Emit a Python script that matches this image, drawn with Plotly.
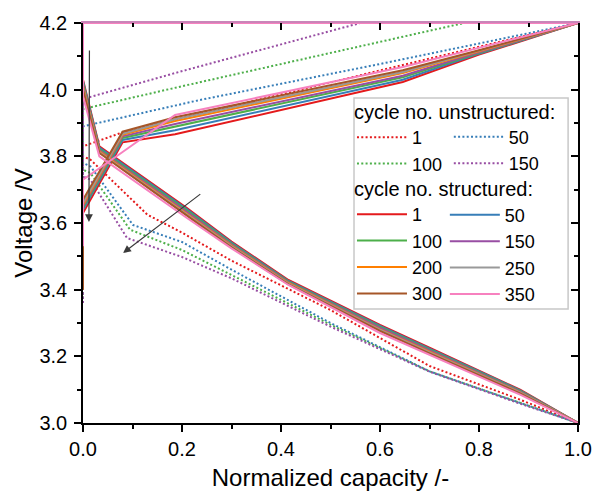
import plotly.graph_objects as go

# ---------------- data ----------------
U_LABELS = ["1", "50", "100", "150"]
U_COLORS = ["#e41a1c", "#377eb8", "#4daf4a", "#984ea3"]
U_LEGENDS = ["legend", "legend2", "legend", "legend2"]

# unstructured charge (x, V)
u1_charge_x = [0, 0, 0.08, 0.2, 0.5, 0.8, 1.0]
u1_charge_v = [3.36, 3.83, 3.872, 3.915, 4.023, 4.13, 4.2]
u50_charge_x = [0, 0, 0.236, 0.6, 1.0]
u50_charge_v = [3.36, 3.89, 3.969, 4.077, 4.2]
u100_charge_x = [0, 0, 0.196, 0.6, 0.77, 1.0]
u100_charge_v = [3.36, 3.942, 4.009, 4.144, 4.2, 4.2]
u150_charge_x = [0, 0, 0.196, 0.533, 0.56, 1.0]
u150_charge_v = [3.36, 3.972, 4.054, 4.189, 4.2, 4.2]

# unstructured discharge (x, V)
u1_dis_x = [0, 0, 0.015, 0.13, 0.2, 0.3, 0.5, 0.7, 0.883, 1.0]
u1_dis_v = [4.2, 3.80, 3.79, 3.625, 3.571, 3.487, 3.339, 3.171, 3.07, 3.0]
u50_dis_x = [0, 0, 0.015, 0.101, 0.2, 0.3, 0.5, 0.7, 0.883, 1.0]
u50_dis_v = [4.2, 3.78, 3.77, 3.594, 3.543, 3.46, 3.30, 3.155, 3.06, 3.0]
u100_dis_x = [0, 0, 0.015, 0.095, 0.2, 0.3, 0.5, 0.7, 0.883, 1.0]
u100_dis_v = [4.2, 3.76, 3.75, 3.58, 3.519, 3.444, 3.295, 3.155, 3.06, 3.0]
u150_dis_x = [0, 0, 0.015, 0.089, 0.2, 0.3, 0.5, 0.7, 0.883, 1.0]
u150_dis_v = [4.2, 3.74, 3.73, 3.555, 3.498, 3.434, 3.289, 3.154, 3.058, 3.0]

S_LABELS = ["1", "50", "100", "150", "200", "250", "300", "350"]
S_COLORS = ["#e41a1c", "#377eb8", "#4daf4a", "#984ea3",
            "#ff7f00", "#999999", "#a65628", "#f781bf"]
S_LEGENDS = ["legend3", "legend4", "legend3", "legend4",
             "legend3", "legend4", "legend3", "legend4"]

# structured charge: shared capacity grid
s_charge_x = [0, 0, 0.08, 0.186, 0.646, 0.8, 1.0]
s1_charge_v = [3.40, 3.630, 3.842, 3.866, 4.023, 4.105, 4.2]
s50_charge_v = [3.40, 3.640, 3.849, 3.878, 4.030, 4.108, 4.2]
s100_charge_v = [3.40, 3.645, 3.855, 3.889, 4.037, 4.110, 4.2]
s150_charge_v = [3.40, 3.650, 3.860, 3.897, 4.042, 4.112, 4.2]
s200_charge_v = [3.40, 3.655, 3.865, 3.906, 4.050, 4.115, 4.2]
s250_charge_v = [3.40, 3.660, 3.868, 3.911, 4.053, 4.116, 4.2]
s300_charge_v = [3.40, 3.670, 3.874, 3.917, 4.058, 4.118, 4.2]
s350_charge_v = [3.53, 3.730, 3.813, 3.924, 4.068, 4.125, 4.2]

# structured discharge: shared capacity grid
s_dis_x = [0, 0, 0.033, 0.21, 0.3, 0.415, 0.6, 0.7, 0.883, 1.0]
s1_dis_v = [4.2, 4.030, 3.830, 3.645, 3.544, 3.429, 3.294, 3.226, 3.100, 3.0]
s50_dis_v = [4.2, 4.025, 3.826, 3.641, 3.541, 3.426, 3.291, 3.223, 3.098, 3.0]
s100_dis_v = [4.2, 4.020, 3.822, 3.637, 3.538, 3.424, 3.288, 3.220, 3.096, 3.0]
s150_dis_v = [4.2, 4.015, 3.818, 3.633, 3.535, 3.422, 3.285, 3.218, 3.094, 3.0]
s200_dis_v = [4.2, 4.010, 3.815, 3.629, 3.532, 3.420, 3.281, 3.214, 3.092, 3.0]
s250_dis_v = [4.2, 4.005, 3.812, 3.626, 3.530, 3.418, 3.279, 3.212, 3.091, 3.0]
s300_dis_v = [4.2, 4.000, 3.810, 3.622, 3.527, 3.416, 3.276, 3.209, 3.089, 3.0]
s350_dis_v = [4.2, 3.980, 3.800, 3.615, 3.524, 3.414, 3.270, 3.205, 3.085, 3.0]

# arrows (tail -> head) in data coordinates
ARROW_VERT = ((0.013, 4.122), (0.012, 3.603))
ARROW_DIAG = ((0.240, 3.690), (0.081, 3.510))

X_TICK_STEP = 0.2
Y_TICK_STEP = 0.2

# ---------------- figure ----------------
FONT = "Liberation Sans, Arial, sans-serif"
fig = go.Figure()

u_series = [
    (u1_charge_x, u1_charge_v, u1_dis_x, u1_dis_v),
    (u50_charge_x, u50_charge_v, u50_dis_x, u50_dis_v),
    (u100_charge_x, u100_charge_v, u100_dis_x, u100_dis_v),
    (u150_charge_x, u150_charge_v, u150_dis_x, u150_dis_v),
]
for (cx, cv, dx, dv), lab, col, lg in zip(u_series, U_LABELS, U_COLORS, U_LEGENDS):
    fig.add_trace(go.Scatter(
        x=list(cx) + list(dx), y=list(cv) + list(dv), mode="lines",
        name=lab, legend=lg,
        line=dict(color=col, width=2, dash="2px,2.3px")))

s_charge = [s1_charge_v, s50_charge_v, s100_charge_v, s150_charge_v,
            s200_charge_v, s250_charge_v, s300_charge_v, s350_charge_v]
s_dis = [s1_dis_v, s50_dis_v, s100_dis_v, s150_dis_v,
         s200_dis_v, s250_dis_v, s300_dis_v, s350_dis_v]
for cv, dv, lab, col, lg in zip(s_charge, s_dis, S_LABELS, S_COLORS, S_LEGENDS):
    fig.add_trace(go.Scatter(
        x=list(s_charge_x) + list(s_dis_x), y=list(cv) + list(dv), mode="lines",
        name=lab, legend=lg, line=dict(color=col, width=2)))

# empty trace to instantiate mirrored top/right axes
fig.add_trace(go.Scatter(x=[None], y=[None], xaxis="x2", yaxis="y2",
                         showlegend=False, hoverinfo="skip"))

axis_common = dict(showgrid=False, zeroline=False, showline=True,
                   linecolor="black", linewidth=1.5, tickcolor="black",
                   tickwidth=1.5, ticklen=7, automargin=False)

fig.update_layout(
    width=593, height=493,
    margin=dict(l=83, r=15, t=23, b=70),
    paper_bgcolor="white", plot_bgcolor="white",
    font=dict(family=FONT, size=20, color="black"),
    xaxis=dict(range=[0, 1], dtick=X_TICK_STEP, tick0=0, tickformat=".1f",
               ticks="outside", tickfont=dict(size=20),
               minor=dict(ticks="outside", ticklen=4, dtick=X_TICK_STEP / 2,
                          tickcolor="black", tickwidth=1.5),
               title=dict(text="Normalized capacity /-", font=dict(size=24),
                          standoff=10),
               **axis_common),
    yaxis=dict(range=[3.0, 4.2], dtick=Y_TICK_STEP, tick0=3.0, tickformat=".1f",
               ticks="outside", tickfont=dict(size=20), ticklabelstandoff=3,
               minor=dict(ticks="outside", ticklen=4, dtick=Y_TICK_STEP / 2,
                          tickcolor="black", tickwidth=1.5),
               title=dict(text="Voltage /V", font=dict(size=24), standoff=0),
               **axis_common),
    xaxis2=dict(range=[0, 1], overlaying="x", side="top", anchor="y2",
                dtick=X_TICK_STEP, tick0=0, ticks="inside", showticklabels=False,
                minor=dict(ticks="inside", ticklen=4, dtick=X_TICK_STEP / 2,
                           tickcolor="black", tickwidth=1.5),
                **{**axis_common, "linecolor": "#c985b8", "linewidth": 1.5}),
    yaxis2=dict(range=[3.0, 4.2], overlaying="y", side="right", anchor="x2",
                dtick=Y_TICK_STEP, tick0=3.0, ticks="inside", showticklabels=False,
                minor=dict(ticks="inside", ticklen=4, dtick=Y_TICK_STEP / 2,
                           tickcolor="black", tickwidth=1.5),
                **axis_common),
    showlegend=True,
)

leg_common = dict(xanchor="left", yanchor="top", bgcolor="rgba(0,0,0,0)",
                  borderwidth=0, itemwidth=50, font=dict(family=FONT, size=18),
                  tracegroupgap=0, traceorder="normal")
fig.update_layout(
    legend=dict(x=0.5434, y=0.825,
                title=dict(text="cycle no. unstructured:", side="top",
                           font=dict(family=FONT, size=20)), **leg_common),
    legend2=dict(x=0.739, y=0.761, **leg_common),
    legend3=dict(x=0.5434, y=0.6325,
                 title=dict(text="cycle no. structured:", side="top",
                            font=dict(family=FONT, size=20)), **leg_common),
    legend4=dict(x=0.731, y=0.566, **leg_common),
)

# legend box
fig.add_shape(type="rect", xref="paper", yref="paper",
              x0=0.5475, x1=0.98, y0=0.285, y1=0.8125,
              line=dict(color="#c8c8c8", width=1.5), fillcolor="white",
              layer="above")

for (tx, ty), (hx, hy) in (ARROW_VERT, ARROW_DIAG):
    fig.add_annotation(x=hx, y=hy, ax=tx, ay=ty, xref="x", yref="y",
                       axref="x", ayref="y", text="", showarrow=True,
                       arrowhead=2, arrowsize=1.3, arrowwidth=1.2,
                       arrowcolor="#3a3a3a")

fig.write_html("out.html")
